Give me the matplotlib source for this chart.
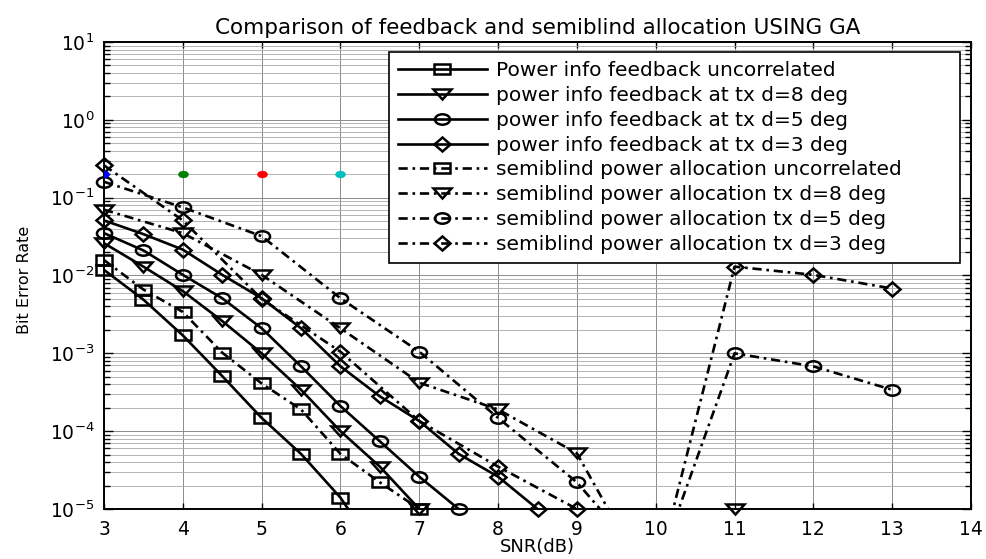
import numpy as np
import matplotlib
matplotlib.use('Agg')
import matplotlib.pyplot as plt
from matplotlib.markers import MarkerStyle
from matplotlib.transforms import Affine2D
from matplotlib.lines import Line2D
from matplotlib.ticker import NullLocator, FixedLocator

plt.rcParams['font.family'] = ['DejaVu Sans']
plt.rcParams['mathtext.fontset'] = 'dejavusans'

# ---------------- data ----------------
snr_fb_uncorr = [3, 3.5, 4, 4.5, 5, 5.5, 6, 6.5]
ber_fb_uncorr = [0.0118, 0.0049, 0.0017, 0.00051, 0.000148, 5.1e-5, 1.4e-5, 2.5e-6]

snr_fb_d8 = [3, 3.5, 4, 4.5, 5, 5.5, 6, 6.5, 7]
ber_fb_d8 = [0.026, 0.013, 0.0063, 0.0026, 0.001, 0.00034, 0.0001, 3.5e-5, 1e-5]

snr_fb_d5 = [3, 3.5, 4, 4.5, 5, 5.5, 6, 6.5, 7, 7.5]
ber_fb_d5 = [0.035, 0.021, 0.0102, 0.0051, 0.0021, 0.00068, 0.00021, 7.4e-5, 2.6e-5, 1e-5]

snr_fb_d3 = [3, 3.5, 4, 4.5, 5, 5.5, 6, 6.5, 7, 7.5, 8, 8.5]
ber_fb_d3 = [0.051, 0.034, 0.0215, 0.0102, 0.0051, 0.0021, 0.00068, 0.00028, 0.000135, 5.1e-5, 2.6e-5, 1e-5]

snr_sb_uncorr = [3, 3.5, 4, 4.5, 5, 5.5, 6, 6.5, 7]
ber_sb_uncorr = [0.0158, 0.0066, 0.0034, 0.00102, 0.00041, 0.00019, 5.1e-5, 2.2e-5, 1e-5]

snr_sb_d8 = [3, 4, 5, 6, 7, 8, 9, 10, 11]
ber_sb_d8 = [0.07, 0.035, 0.0102, 0.0021, 0.00042, 0.00019, 5.2e-5, 8e-7, 1e-5]

snr_sb_d5 = [3, 4, 5, 6, 7, 8, 9, 10, 11, 12, 13]
ber_sb_d5 = [0.16, 0.075, 0.032, 0.0051, 0.00105, 0.000148, 2.2e-5, 1.5e-6, 0.001, 0.00068, 0.00034]

snr_sb_d3 = [3, 4, 5, 6, 7, 8, 9, 10, 11, 12, 13]
ber_sb_d3 = [0.26, 0.051, 0.005, 0.00105, 0.000135, 3.5e-5, 1e-5, 1.3e-6, 0.013, 0.0102, 0.0068]

dot_snr = [3, 4, 5, 6]
dot_ber = [0.2, 0.2, 0.2, 0.2]
dot_colors = ['#0000ff', '#008000', '#ff0000', '#00bfbf']

labels = ['Power info feedback uncorrelated',
          'power info feedback at tx d=8 deg',
          'power info feedback at tx d=5 deg',
          'power info feedback at tx d=3 deg',
          'semiblind power allocation uncorrelated',
          'semiblind power allocation tx d=8 deg',
          'semiblind power allocation tx d=5 deg',
          'semiblind power allocation tx d=3 deg']

title = 'Comparison of feedback and semiblind allocation USING GA'
xlabel = 'SNR(dB)'
ylabel = 'Bit Error Rate'
xticks = list(range(3, 15))
ytick_exponents = list(range(-5, 2))
ylim = (1e-5, 1e1)

# ---------------- styling ----------------
LW = 1.9
MEW = 1.8
DASHDOT = (0, (3.5, 1.8, 1.0, 1.8))
mk = {
    's': (MarkerStyle('s', transform=Affine2D().scale(1.45, 1)), 7.5),
    'v': (MarkerStyle('v', transform=Affine2D().scale(1.9, 1)), 7.0),
    'o': (MarkerStyle('o', transform=Affine2D().scale(1.45, 1)), 7.5),
    'D': (MarkerStyle('D', transform=Affine2D().scale(1.15, 1)), 7.0),
}
dot_marker = MarkerStyle('o', transform=Affine2D().scale(1.45, 1))

fig = plt.figure(figsize=(9.87, 5.59), dpi=100)
ax = fig.add_axes([0.10537, 0.08945, 0.87842, 0.83542])
ax.set_yscale('log')
ax.set_xlim(3, 14)
ax.set_ylim(*ylim)

handles = []

def draw(x, y, ls, m, label):
    x = np.asarray(x, dtype=float)
    y = np.asarray(y, dtype=float)
    marker, ms = mk[m]
    ax.plot(x, y, color='k', ls=ls, lw=LW, zorder=3)
    vis = y >= ylim[0] * 0.999
    ax.plot(x[vis], y[vis], ls='none', marker=marker, ms=ms, mfc='none',
            mec='k', mew=MEW, clip_on=False, zorder=4)
    handles.append(Line2D([], [], color='k', ls=ls, lw=LW, marker=marker,
                          ms=ms, mfc='none', mec='k', mew=MEW, label=label))

series = [
    (snr_fb_uncorr, ber_fb_uncorr, '-', 's'),
    (snr_fb_d8, ber_fb_d8, '-', 'v'),
    (snr_fb_d5, ber_fb_d5, '-', 'o'),
    (snr_fb_d3, ber_fb_d3, '-', 'D'),
    (snr_sb_uncorr, ber_sb_uncorr, DASHDOT, 's'),
    (snr_sb_d8, ber_sb_d8, DASHDOT, 'v'),
    (snr_sb_d5, ber_sb_d5, DASHDOT, 'o'),
    (snr_sb_d3, ber_sb_d3, DASHDOT, 'D'),
]
for (x, y, ls, m), lab in zip(series, labels):
    draw(x, y, ls, m, lab)

for xs, ys, c in zip(dot_snr, dot_ber, dot_colors):
    ax.plot([xs], [ys], ls='none', marker=dot_marker, ms=5, mfc=c, mec=c,
            mew=0.3, zorder=5)

# ticks & grid (fixed so that no tick exists outside the view)
major_y = [10.0 ** e for e in ytick_exponents]
minor_y = [m * 10.0 ** e for e in ytick_exponents[:-1] for m in range(2, 10)]
ax.xaxis.set_major_locator(FixedLocator(xticks))
ax.xaxis.set_minor_locator(NullLocator())
ax.yaxis.set_major_locator(FixedLocator(major_y))
ax.yaxis.set_minor_locator(FixedLocator(minor_y))
ax.grid(True, which='major', color='0.55', lw=0.7, ls='-', zorder=0)
ax.grid(True, which='minor', axis='y', color='0.66', lw=0.6, ls='-', zorder=0)
ax.set_axisbelow(True)

for s in ax.spines.values():
    s.set_linewidth(1.4)
ax.tick_params(which='both', direction='in', top=True, right=True,
               labelsize=13.5, width=1.0)
ax.tick_params(axis='x', which='major', length=4.3, pad=8)
ax.tick_params(axis='y', which='major', length=6.5, pad=7)
ax.tick_params(axis='y', which='minor', length=4, labelleft=False)

ax.set_title(title, fontsize=15.5, pad=6)
ax.set_xlabel(xlabel, fontsize=13)
ax.xaxis.set_label_coords(0.5, -0.062)
ax.set_ylabel(ylabel, fontsize=11.5)
ax.yaxis.set_label_coords(-0.083, 0.49)

leg = ax.legend(handles=handles, loc='upper left',
                bbox_to_anchor=(0.329, 0.533, 0.658, 0.4456), mode='expand',
                borderaxespad=0, fontsize=14.5, handlelength=4.38,
                handletextpad=0.45, labelspacing=0.29, borderpad=0.45,
                numpoints=1, fancybox=False, framealpha=1, edgecolor='k')
leg.get_frame().set_linewidth(1.2)

fig.savefig('out.png', dpi=100)
